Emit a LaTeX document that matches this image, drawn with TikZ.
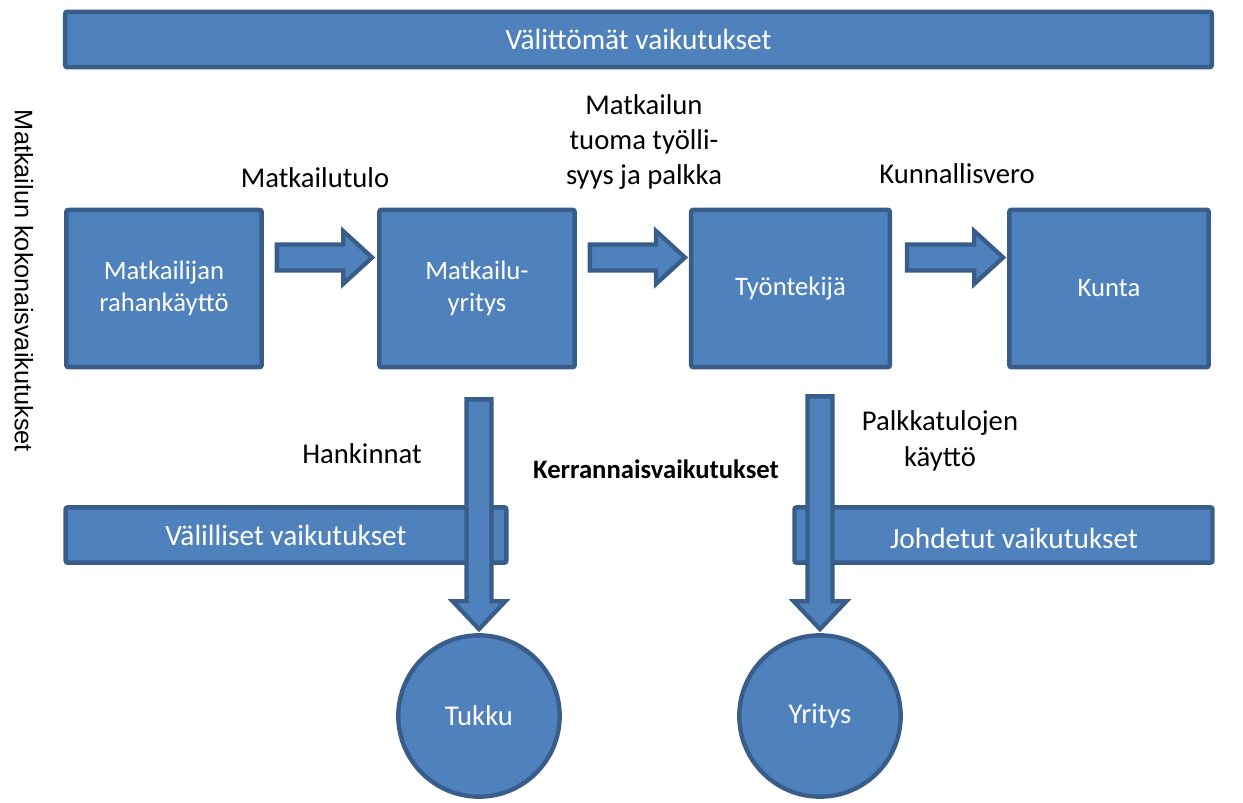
\documentclass[tikz,border=0pt]{standalone}
\usepackage{fontspec}
\setmainfont{Carlito}
\newfontfamily\vertfont{Liberation Sans}
\usetikzlibrary{calc}
\definecolor{boxfill}{HTML}{4F81BD}
\definecolor{boxline}{HTML}{385D8A}
\tikzset{
  shapebase/.style={fill=boxfill, draw=boxline, line width=3.3pt, text=white},
  stepbox/.style={shapebase, rectangle, rounded corners=1.5pt, minimum height=118pt, inner sep=0pt, align=center, font=\fontsize{20}{23.5}\selectfont},
  barbox/.style={shapebase, rectangle, rounded corners=1.5pt, minimum height=41.5pt, inner sep=0pt, font=\fontsize{22}{26}\selectfont},
  roundnode/.style={shapebase, circle, minimum size=121pt, inner sep=0pt, font=\fontsize{21.5}{25}\selectfont},
  blockarrow/.style={fill=boxfill, draw=boxline, line width=3.2pt, line join=miter},
  lbl/.style={text=black, align=center, inner sep=0pt, font=\fontsize{21.5}{26.6}\selectfont},
  whitelbl/.style={text=white, inner sep=0pt, font=\fontsize{22}{26}\selectfont},
}
\newcommand\harrow[2]{%
  \draw[blockarrow] ($(#1)+(0,-13)$) -- ($(#2)+(-29,-13)$) -- ($(#2)+(-29,-26.5)$) -- (#2)
    -- ($(#2)+(-29,26.5)$) -- ($(#2)+(-29,13)$) -- ($(#1)+(0,13)$) -- cycle;}
\newcommand\varrow[2]{%
  \draw[blockarrow] ($(#1)+(-12.5,0)$) -- ($(#2)+(-12.5,-28)$) -- ($(#2)+(-26.5,-28)$) -- (#2)
    -- ($(#2)+(26.5,-28)$) -- ($(#2)+(12.5,-28)$) -- ($(#1)+(12.5,0)$) -- cycle;}
\begin{document}
\begin{tikzpicture}[x=0.75pt, y=-0.75pt]
\useasboundingbox (0,0) rectangle (1243,803);

% top bar
\node[barbox, minimum width=860pt] (top) at (638.5,39.5) {Välittömät vaikutukset};

% step boxes
\node[stepbox, minimum width=146.5pt] (b1) at (164,288.5) {Matkailijan\\rahankäyttö};
\node[stepbox, minimum width=146.5pt] (b2) at (477,288.5) {Matkailu-\\yritys};
\node[stepbox, minimum width=149pt] (b3) at (790.5,288.5) {Työntekijä};
\node[stepbox, minimum width=149.5pt] (b4) at (1109,288.5) {Kunta};

% horizontal block arrows
\coordinate (h1s) at ($(b1.east)+(13,-31)$);
\coordinate (h1e) at ($(b2.west)+(-5,-31)$);
\coordinate (h2s) at ($(b2.east)+(13,-31)$);
\coordinate (h2e) at ($(b3.west)+(-4,-31)$);
\coordinate (h3s) at ($(b3.east)+(15,-31)$);
\coordinate (h3e) at ($(b4.west)+(-4,-31)$);
\harrow{h1s}{h1e}
\harrow{h2s}{h2e}
\harrow{h3s}{h3e}

% bottom bars
\node[barbox, minimum width=330.5pt] (left) at (286,535) {Välilliset vaikutukset};
\node[barbox, minimum width=313.5pt] (right) at (1003.5,535) {};
\node[whitelbl] (righttext) at (1014,538) {Johdetut vaikutukset};

% circles
\node[roundnode] (tukku) at (479,716) {Tukku};
\node[roundnode] (yritys) at (820,716) {Yritys};

% vertical block arrows
\coordinate (v1s) at ($(b2.south)+(2,30)$);
\coordinate (v1e) at ($(tukku.north)+(0,-4)$);
\coordinate (v2s) at ($(b3.south)+(29.5,27)$);
\coordinate (v2e) at ($(yritys.north)+(0,-4)$);
\varrow{v1s}{v1e}
\varrow{v2s}{v2e}

% labels
\node[lbl] (l1) at (315,178) {Matkailutulo};
\node[lbl] (l2) at (644,142) {Matkailun\\tuoma työlli-\\syys ja palkka};
\node[lbl] (l3) at (957,174) {Kunnallisvero};
\node[lbl] (l4) at (362,454) {Hankinnat};
\node[lbl, font=\fontsize{20}{24}\selectfont\bfseries] (l5) at (656,469) {Kerrannaisvaikutukset};
\node[lbl] (l6) at (940,441) {Palkkatulojen\\käyttö};
\node[text=black, inner sep=0pt, rotate=-90, font=\vertfont\fontsize{19}{23}\selectfont] (side) at (24,281) {Matkailun kokonaisvaikutukset};
\end{tikzpicture}
\end{document}
